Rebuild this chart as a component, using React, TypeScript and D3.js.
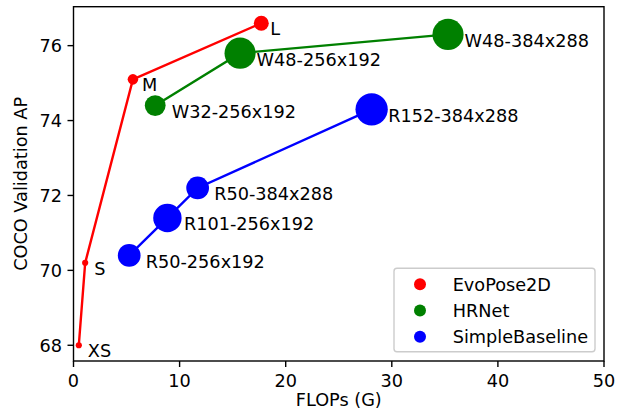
import React from "react";
import * as d3 from "d3";

const evoNames = ["XS", "S", "M", "L"];
const evoFlops = [0.5, 1.1, 5.6, 17.7];
const evoAP = [68.0, 70.2, 75.1, 76.6];
const evoParams = [2.5, 2.5, 7.3, 14.7];

const hrNames = ["W32-256x192", "W48-256x192", "W48-384x288"];
const hrFlops = [7.7, 15.7, 35.3];
const hrAP = [74.4, 75.8, 76.3];
const hrParams = [28.5, 63.6, 63.6];

const sbNames = ["R50-256x192", "R101-256x192", "R50-384x288", "R152-384x288"];
const sbFlops = [5.25, 8.85, 11.7, 28.1];
const sbAP = [70.4, 71.4, 72.2, 74.3];
const sbParams = [34.0, 53.0, 34.0, 68.6];

const seriesNames = ["EvoPose2D", "HRNet", "SimpleBaseline"];
const xTicks = [0, 10, 20, 30, 40, 50];
const yTicks = [68, 70, 72, 74, 76];

const W = 622;
const H = 415;
const L = 73.5, R = 604, T = 6.7, B = 361;
const FONT = "'DejaVu Sans', sans-serif";
const FS = 17.7;

export default function App() {
  const x = d3.scaleLinear().domain([0, 50]).range([L, R]);
  const y = d3.scaleLinear().domain([67.58, 77.04]).range([B, T]);
  const line = d3
    .line<[number, number]>()
    .x((d) => x(d[0]))
    .y((d) => y(d[1]));

  const series = [
    { name: seriesNames[0], color: "#ff0000", labels: evoNames, fx: evoFlops, ap: evoAP, p: evoParams, dx: 9, dy: 12 },
    { name: seriesNames[1], color: "#008000", labels: hrNames, fx: hrFlops, ap: hrAP, p: hrParams, dx: 16.5, dy: 12.5 },
    { name: seriesNames[2], color: "#0000ff", labels: sbNames, fx: sbFlops, ap: sbAP, p: sbParams, dx: 16.5, dy: 12.5 },
  ];
  const rScale = (p: number) => 1.95 * Math.sqrt(p);

  return (
    <svg
      width={W}
      height={H}
      style={{ position: "absolute", left: 0, top: 0, background: "#fff" }}
      fontFamily={FONT}
    >
      <rect x={0} y={0} width={W} height={H} fill="#fff" />
      {series.map((s) => {
        const pts = s.fx.map((v, i) => [v, s.ap[i]] as [number, number]);
        return (
          <g key={s.name}>
            <path d={line(pts) || ""} fill="none" stroke={s.color} strokeWidth={2.4} />
            {pts.map((d, i) => (
              <circle key={i} cx={x(d[0])} cy={y(d[1])} r={rScale(s.p[i])} fill={s.color} />
            ))}
            {pts.map((d, i) => (
              <text key={"t" + i} x={x(d[0]) + s.dx} y={y(d[1]) + s.dy} fontSize={FS} fill="#000">
                {s.labels[i]}
              </text>
            ))}
          </g>
        );
      })}
      {/* frame */}
      <rect x={L} y={T} width={R - L} height={B - T} fill="none" stroke="#000" strokeWidth={1.4} />
      {/* x ticks */}
      {xTicks.map((t) => (
        <g key={"x" + t}>
          <line x1={x(t)} x2={x(t)} y1={B} y2={B + 6} stroke="#000" strokeWidth={1.4} />
          <text x={x(t)} y={387} textAnchor="middle" fontSize={FS} fill="#000">
            {t}
          </text>
        </g>
      ))}
      {/* y ticks */}
      {yTicks.map((t) => (
        <g key={"y" + t}>
          <line x1={L - 6} x2={L} y1={y(t)} y2={y(t)} stroke="#000" strokeWidth={1.4} />
          <text x={62} y={y(t) + 6.3} textAnchor="end" fontSize={FS} fill="#000">
            {t}
          </text>
        </g>
      ))}
      <text x={(L + R) / 2} y={406} textAnchor="middle" fontSize={FS} fill="#000">
        FLOPs (G)
      </text>
      <text
        transform={`translate(27,${(T + B) / 2}) rotate(-90)`}
        textAnchor="middle"
        fontSize={FS}
        fill="#000"
      >
        COCO Validation AP
      </text>
      {/* legend */}
      <rect x={394} y={268.3} width={201} height={83.4} rx={3} fill="#fff" fillOpacity={0.8} stroke="#cccccc" strokeWidth={1.4} />
      {series.map((s, i) => (
        <g key={"lg" + i}>
          <circle cx={420} cy={284.3 + i * 26.2} r={6} fill={s.color} />
          <text x={452.7} y={284.3 + i * 26.2 + 6.3} fontSize={FS} fill="#000">
            {s.name}
          </text>
        </g>
      ))}
    </svg>
  );
}
